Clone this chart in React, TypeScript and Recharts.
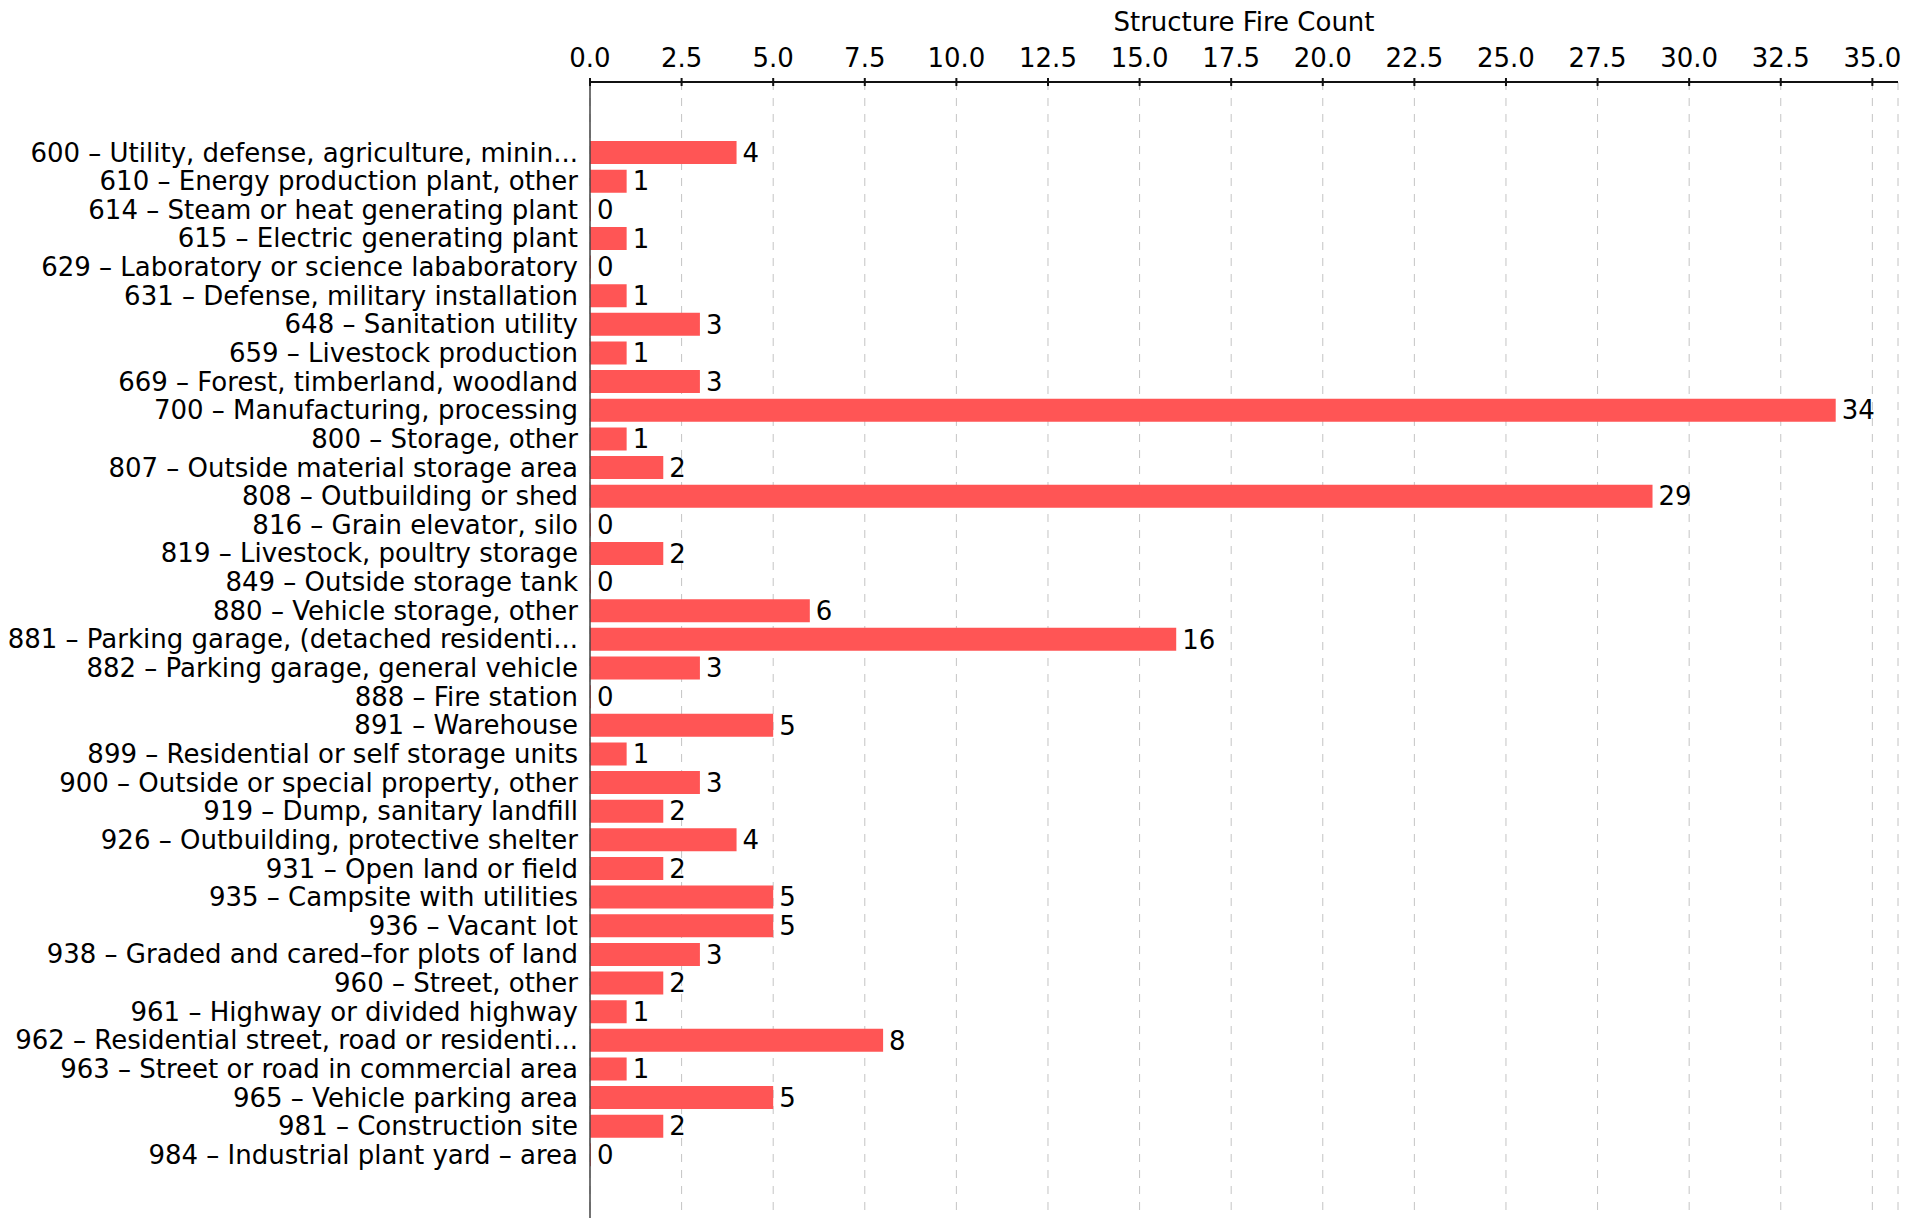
import React from "react";
import { BarChart, Bar, XAxis, YAxis, CartesianGrid, LabelList } from "recharts";

const categories = [
  "600 – Utility, defense, agriculture, minin...",
  "610 – Energy production plant, other",
  "614 – Steam or heat generating plant",
  "615 – Electric generating plant",
  "629 – Laboratory or science lababoratory",
  "631 – Defense, military installation",
  "648 – Sanitation utility",
  "659 – Livestock production",
  "669 – Forest, timberland, woodland",
  "700 – Manufacturing, processing",
  "800 – Storage, other",
  "807 – Outside material storage area",
  "808 – Outbuilding or shed",
  "816 – Grain elevator, silo",
  "819 – Livestock, poultry storage",
  "849 – Outside storage tank",
  "880 – Vehicle storage, other",
  "881 – Parking garage, (detached residenti...",
  "882 – Parking garage, general vehicle",
  "888 – Fire station",
  "891 – Warehouse",
  "899 – Residential or self storage units",
  "900 – Outside or special property, other",
  "919 – Dump, sanitary landfill",
  "926 – Outbuilding, protective shelter",
  "931 – Open land or field",
  "935 – Campsite with utilities",
  "936 – Vacant lot",
  "938 – Graded and cared–for plots of land",
  "960 – Street, other",
  "961 – Highway or divided highway",
  "962 – Residential street, road or residenti...",
  "963 – Street or road in commercial area",
  "965 – Vehicle parking area",
  "981 – Construction site",
  "984 – Industrial plant yard – area",
];

const counts = [4, 1, 0, 1, 0, 1, 3, 1, 3, 34, 1, 2, 29, 0, 2, 0, 6, 16, 3, 0, 5, 1, 3, 2, 4, 2, 5, 5, 3, 2, 1, 8, 1, 5, 2, 0];

const xTicks = [0, 2.5, 5, 7.5, 10, 12.5, 15, 17.5, 20, 22.5, 25, 27.5, 30, 32.5, 35];
const xDomainMax = 35.7;
const axisTitle = "Structure Fire Count";

const data = categories.map((name, i) => ({ name, value: counts[i] }));

const FONT = "'DejaVu Sans', sans-serif";
const FS = 26;

const TopTick = (props: any) => {
  const { x, y, payload } = props;
  return (
    <g>
      <line x1={x} x2={x} y1={y - 4} y2={y + 4} stroke="#111" strokeWidth={2} />
      <text x={x} y={y - 15} textAnchor="middle" fill="#000" fontSize={FS} fontFamily={FONT}>
        {Number(payload.value).toFixed(1)}
      </text>
    </g>
  );
};

export default function App() {
  return (
    <div style={{ width: 1915, height: 1210, fontFamily: FONT }}>
      <BarChart
        width={1915}
        height={1210}
        data={data}
        layout="vertical"
        margin={{ top: 0, right: 25, left: 0, bottom: 0 }}
      >
        <CartesianGrid horizontal={false} strokeDasharray="8 8" stroke="#c4c4c4" />
        <XAxis
          type="number"
          orientation="top"
          domain={[0, xDomainMax]}
          ticks={xTicks}
          height={74}
          tickLine={false}
          tickSize={0}
          tickMargin={0}
          tick={<TopTick />}
          axisLine={{ stroke: "#111", strokeWidth: 2 }}
          label={{ value: axisTitle, position: "insideTop", offset: 5, fill: "#000", fontSize: FS, fontFamily: FONT }}
        />
        <YAxis
          type="category"
          dataKey="name"
          width={582}
          interval={0}
          tickLine={false}
          tickSize={0}
          tickMargin={12}
          padding={{ top: 56, bottom: 49 }}
          axisLine={{ stroke: "#444", strokeWidth: 1.5 }}
          tick={{ fill: "#000", fontSize: FS, fontFamily: FONT }}
        />
        <Bar dataKey="value" fill="#FF5555" barSize={23} minPointSize={1} isAnimationActive={false}>
          <LabelList dataKey="value" position="right" offset={6} fill="#000" fontSize={FS} fontFamily={FONT} />
        </Bar>
      </BarChart>
    </div>
  );
}
